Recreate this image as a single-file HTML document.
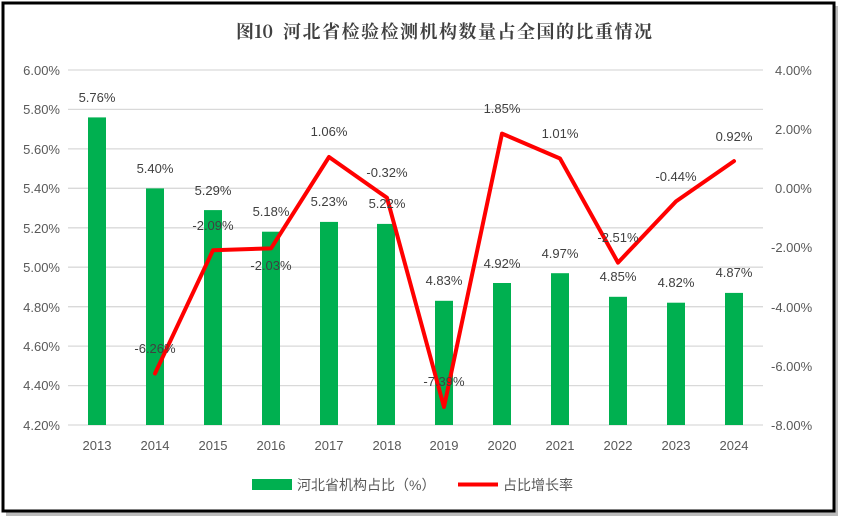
<!DOCTYPE html><html><head><meta charset="utf-8"><style>body{margin:0;background:#fff}</style></head><body>
<svg width="844" height="523" xmlns="http://www.w3.org/2000/svg" font-family="Liberation Sans, Noto Sans CJK SC, sans-serif">
<rect x="6" y="6" width="832" height="510" fill="#bbb"/>
<rect x="3" y="3" width="831" height="508" fill="#fff" stroke="#000" stroke-width="3"/>
<text x="236" y="38" font-size="18" font-weight="bold" fill="#404040" font-family="Noto Serif CJK SC, Noto Sans CJK SC, serif">图10</text>
<text x="283" y="38" font-size="18" font-weight="bold" fill="#404040" font-family="Noto Serif CJK SC, Noto Sans CJK SC, serif" textLength="369">河北省检验检测机构数量占全国的比重情况</text>
<g stroke="#d9d9d9" stroke-width="1.3">
<line x1="68" x2="763" y1="70" y2="70"/><line x1="68" x2="763" y1="109.4" y2="109.4"/><line x1="68" x2="763" y1="148.9" y2="148.9"/><line x1="68" x2="763" y1="188.3" y2="188.3"/><line x1="68" x2="763" y1="227.8" y2="227.8"/><line x1="68" x2="763" y1="267.2" y2="267.2"/><line x1="68" x2="763" y1="306.7" y2="306.7"/><line x1="68" x2="763" y1="346.1" y2="346.1"/><line x1="68" x2="763" y1="385.6" y2="385.6"/><line x1="68" x2="763" y1="425" y2="425"/>
</g>
<g font-size="13" fill="#595959" text-anchor="end">
<text x="60" y="75">6.00%</text><text x="60" y="114">5.80%</text><text x="60" y="154">5.60%</text><text x="60" y="193">5.40%</text><text x="60" y="233">5.20%</text><text x="60" y="272">5.00%</text><text x="60" y="312">4.80%</text><text x="60" y="351">4.60%</text><text x="60" y="390">4.40%</text><text x="60" y="430">4.20%</text>
</g>
<g font-size="13" fill="#595959">
<text x="775" y="75">4.00%</text><text x="775" y="134">2.00%</text><text x="775" y="193">0.00%</text><text x="771" y="252">-2.00%</text><text x="771" y="312">-4.00%</text><text x="771" y="371">-6.00%</text><text x="771" y="430">-8.00%</text>
</g>
<g fill="#00b050">
<rect x="88" y="117.4" width="18" height="307.6"/><rect x="146" y="188.4" width="18" height="236.6"/><rect x="204" y="210.1" width="18" height="214.9"/><rect x="262" y="231.7" width="18" height="193.3"/><rect x="320" y="221.9" width="18" height="203.1"/><rect x="377" y="223.9" width="18" height="201.1"/><rect x="435" y="300.8" width="18" height="124.2"/><rect x="493" y="283" width="18" height="142"/><rect x="551" y="273.2" width="18" height="151.8"/><rect x="609" y="296.8" width="18" height="128.2"/><rect x="667" y="302.7" width="18" height="122.3"/><rect x="725" y="292.9" width="18" height="132.1"/>
</g>
<g font-size="13" fill="#595959" text-anchor="middle">
<text x="97" y="450">2013</text><text x="155" y="450">2014</text><text x="213" y="450">2015</text><text x="271" y="450">2016</text><text x="329" y="450">2017</text><text x="387" y="450">2018</text><text x="444" y="450">2019</text><text x="502" y="450">2020</text><text x="560" y="450">2021</text><text x="618" y="450">2022</text><text x="676" y="450">2023</text><text x="734" y="450">2024</text>
</g>
<polyline fill="none" stroke="#ff0000" stroke-width="4" stroke-linejoin="round" stroke-linecap="round" points="155,373.5 213,250.2 271,248.4 329,157 387,197.8 444,407 502,133.6 560,158.5 618,262.6 676,201.4 734,161.1"/>
<g font-size="13" fill="#404040" text-anchor="middle">
<text x="97" y="102">5.76%</text><text x="155" y="173">5.40%</text><text x="213" y="195">5.29%</text><text x="271" y="216">5.18%</text><text x="329" y="206">5.23%</text><text x="387" y="208">5.22%</text><text x="444" y="285">4.83%</text><text x="502" y="268">4.92%</text><text x="560" y="258">4.97%</text><text x="618" y="281">4.85%</text><text x="676" y="287">4.82%</text><text x="734" y="277">4.87%</text>
<text x="155" y="353">-6.26%</text><text x="213" y="230">-2.09%</text><text x="271" y="270">-2.03%</text><text x="329" y="136">1.06%</text><text x="387" y="177">-0.32%</text><text x="444" y="386">-7.39%</text><text x="502" y="113">1.85%</text><text x="560" y="138">1.01%</text><text x="618" y="242">-2.51%</text><text x="676" y="181">-0.44%</text><text x="734" y="141">0.92%</text>
</g>
<rect x="252" y="479" width="40" height="11" fill="#00b050"/>
<text x="297" y="490" font-size="14" fill="#595959">河北省机构占比（%）</text>
<line x1="458" x2="498" y1="484.5" y2="484.5" stroke="#ff0000" stroke-width="4"/>
<text x="503" y="490" font-size="14" fill="#595959">占比增长率</text>
</svg>
</body></html>
